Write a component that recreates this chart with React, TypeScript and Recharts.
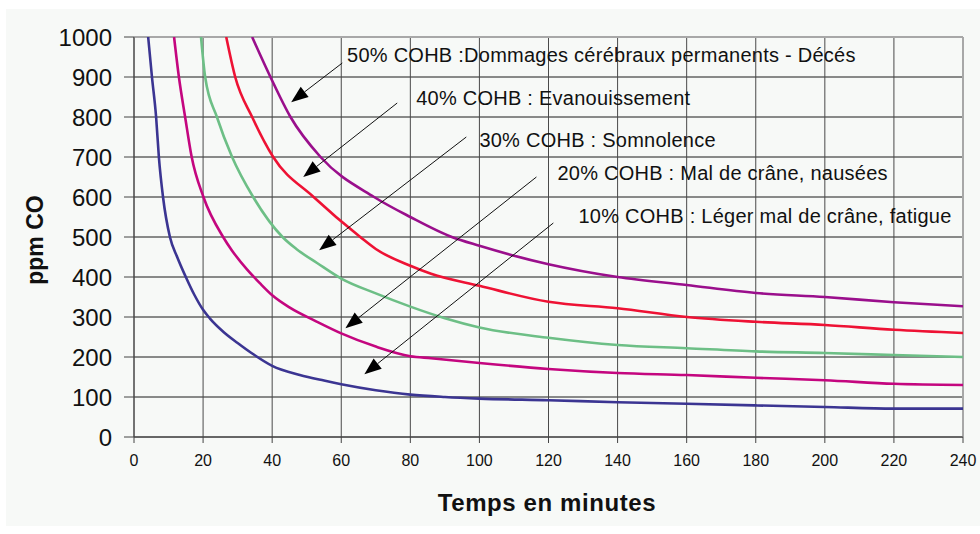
import React from 'react';
import { LineChart, Line, XAxis, YAxis, CartesianGrid, ReferenceLine, ReferenceDot } from 'recharts';

// time (minutes) and CO concentration (ppm) for each COHB level
const time10 = [4.1, 5.2, 6.4, 7.2, 8.4, 10.4, 12.5, 15, 17.5, 20, 22, 26, 30, 34, 40, 48, 55, 60, 70, 80, 90, 100, 120, 140, 160, 180, 200, 220, 240];
const ppm10 = [1000, 900, 800, 700, 600, 500, 450, 400, 355, 318, 296, 262, 235, 210, 178, 155, 141, 132, 117, 106, 100, 96, 92, 87, 83, 79, 75, 71, 71];

const time20 = [11.6, 13, 14.8, 16.7, 20.1, 25.8, 28.3, 32.7, 36.5, 40.2, 45, 53, 60, 70, 80, 86, 100, 120, 140, 160, 180, 200, 220, 240];
const ppm20 = [1000, 900, 800, 700, 600, 500, 467, 419, 384, 353, 324, 288, 259, 226, 202, 197, 185, 170, 160, 155, 148, 142, 133, 130];

const time30 = [19.4, 20.6, 24, 28.4, 34.5, 43, 47, 53, 60, 70, 80, 90, 100, 120, 140, 160, 180, 200, 220, 240];
const ppm30 = [1000, 900, 800, 700, 600, 500, 470, 435, 396, 359, 326, 297, 274, 248, 230, 222, 214, 210, 205, 200];

const time40 = [26.7, 29.3, 34.2, 40.3, 52, 65.5, 70, 80, 86, 100, 120, 140, 160, 180, 200, 220, 240];
const ppm40 = [1000, 900, 800, 700, 600, 500, 470, 428, 408, 378, 338, 322, 300, 288, 280, 268, 260];

const time50 = [34.2, 39.5, 45.3, 54, 69.5, 80, 92, 100, 120, 140, 160, 180, 200, 220, 240];
const ppm50 = [1000, 900, 800, 700, 600, 550, 500, 478, 432, 400, 380, 360, 350, 337, 327];

const xTicks = [0, 20, 40, 60, 80, 100, 120, 140, 160, 180, 200, 220, 240];
const yTicks = [0, 100, 200, 300, 400, 500, 600, 700, 800, 900, 1000];

// annotation texts, text anchor (time, ppm) and arrow start / tip (time, ppm)
const noteTexts = [
  '50% COHB :Dommages cérébraux permanents - Décés',
  '40% COHB : Evanouissement',
  '30% COHB : Somnolence',
  '20% COHB : Mal de crâne, nausées',
  '10% COHB : Léger mal de crâne, fatigue',
];
const noteAt = [[61.4, 955], [81.4, 847], [99.7, 742], [122.3, 660], [128.4, 552]];
const arrowFrom = [[60.3, 935], [76.2, 835], [96.2, 750], [116.5, 650], [121.4, 535]];
const arrowTo = [[45.5, 837], [49, 650], [53.6, 467], [61.2, 272], [66.7, 157]];

const toPoints = (t: number[], v: number[]) => t.map((x, i) => ({ t: x, ppm: v[i] }));

const series = [
  { key: '10', data: toPoints(time10, ppm10), color: '#3b3592' },
  { key: '20', data: toPoints(time20, ppm20), color: '#c4067f' },
  { key: '30', data: toPoints(time30, ppm30), color: '#6dbf86' },
  { key: '40', data: toPoints(time40, ppm40), color: '#ee1234' },
  { key: '50', data: toPoints(time50, ppm50), color: '#9a0f8c' },
];

const Arrow = (props: any) => {
  const { x1, y1, x2, y2 } = props;
  const dx = x2 - x1;
  const dy = y2 - y1;
  const len = Math.sqrt(dx * dx + dy * dy) || 1;
  const ux = dx / len;
  const uy = dy / len;
  const hl = 17;
  const hw = 6.5;
  const bx = x2 - ux * hl;
  const by = y2 - uy * hl;
  const pts = `${x2},${y2} ${bx - uy * hw},${by + ux * hw} ${bx + uy * hw},${by - ux * hw}`;
  return (
    <g>
      <line x1={x1} y1={y1} x2={bx} y2={by} stroke="#111" strokeWidth={1} />
      <polygon points={pts} fill="#000" />
    </g>
  );
};

const font = '"Liberation Sans", Arial, sans-serif';

export default function App() {
  return (
    <div style={{ position: 'absolute', left: 0, top: 0, width: 980, height: 534, background: '#fff', fontFamily: font }}>
      <div style={{ position: 'absolute', left: 6, top: 9, width: 974, height: 517, background: '#f7f9f7' }} />
      <div style={{ position: 'absolute', left: 0, top: 0 }}>
        <LineChart width={980} height={534} margin={{ top: 37, right: 17, bottom: 37, left: 0 }}>
          <CartesianGrid vertical={false} stroke="#1a1a1a" strokeWidth={1} />
          <CartesianGrid horizontal={false} stroke="#4a4a4a" strokeWidth={1} />
          <XAxis
            dataKey="t"
            type="number"
            domain={[0, 240]}
            ticks={xTicks}
            allowDataOverflow
            height={60}
            tickSize={6}
            tickMargin={12}
            stroke="#444"
            tick={{ fill: '#111', fontSize: 16, fontFamily: font }}
          />
          <YAxis
            dataKey="ppm"
            type="number"
            domain={[0, 1000]}
            ticks={yTicks}
            allowDataOverflow
            width={134}
            tickSize={10}
            tickMargin={12}
            stroke="#444"
            tick={{ fill: '#111', fontSize: 24, fontFamily: font }}
          />
          <ReferenceLine y={1000} stroke="#a8a8a8" strokeWidth={2} />
          <ReferenceLine x={240} stroke="#a8a8a8" strokeWidth={2} />
          {series.map((s) => (
            <Line
              key={s.key}
              data={s.data}
              dataKey="ppm"
              type="monotone"
              stroke={s.color}
              strokeWidth={2.6}
              dot={false}
              activeDot={false}
              isAnimationActive={false}
            />
          ))}
          {arrowFrom.map((a, i) => (
            <ReferenceLine
              key={'arrow' + i}
              segment={[{ x: a[0], y: a[1] }, { x: arrowTo[i][0], y: arrowTo[i][1] }]}
              shape={Arrow}
            />
          ))}
          {noteAt.map((p, i) => (
            <ReferenceDot
              key={'note' + i}
              x={p[0]}
              y={p[1]}
              r={1}
              fill="none"
              stroke="none"
              label={{ value: noteTexts[i], position: 'right', offset: 0, fill: '#111', fontSize: 20, fontFamily: font, letterSpacing: 0.25 }}
            />
          ))}
        </LineChart>
      </div>
      <div style={{ position: 'absolute', left: 0, top: 490, width: 1094, textAlign: 'center', fontSize: 24, fontWeight: 700, letterSpacing: 0.6, color: '#111', lineHeight: '26px' }}>
        Temps en minutes
      </div>
      <div style={{ position: 'absolute', left: 35, top: 240, transform: 'translate(-50%, -50%) rotate(-90deg)', fontSize: 23, fontWeight: 700, color: '#111', whiteSpace: 'nowrap', lineHeight: '24px' }}>
        ppm CO
      </div>
    </div>
  );
}
